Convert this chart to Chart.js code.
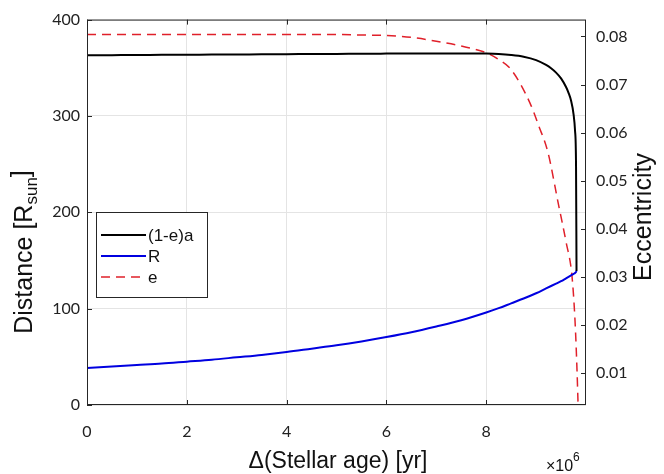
<!DOCTYPE html>
<html><head><meta charset="utf-8">
<script src="https://cdn.jsdelivr.net/npm/chart.js@4/dist/chart.umd.min.js"></script>
<style>html,body{margin:0;padding:0;background:#fff}#wrap{width:664px;height:474px;position:relative}</style>
</head><body><div id="wrap"><canvas id="c" width="664" height="474"></canvas></div>
<script>
// x values in units of 10^6 yr
const ageX   = [0,0.5,1,1.5,2,2.5,3,3.5,4,4.5,5,5.5,6,6.5,7,7.5,8,8.25,8.5,8.75,9,9.2,9.3,9.4,9.5,9.6,9.65,9.7,9.75,9.78,9.8,9.81];
const periA  = [363,363.1,363.2,363.4,363.5,363.7,363.8,364,364.1,364.3,364.4,364.6,364.7,364.8,364.9,364.9,364.7,364.3,363.3,361.5,358,353,349.5,345,339,330,324,316,302,285,250,139];
const radiusR= [38.5,40,41.5,43,45,47,49.5,52,55,58.5,62,66,70.5,75.5,81.5,88,96,100.5,105.5,110.5,116,121,123.5,126,128.5,131.5,133,134.5,136,137,138,139];
const eccX   = [0,1,2,3,4,5,5.5,6,6.5,7,7.5,8,8.25,8.5,8.88,9.05,9.24,9.44,9.6,9.72,9.78,9.82,9.84];
const eccE   = [0.0804,0.0804,0.0804,0.0804,0.0804,0.0804,0.0803,0.0802,0.0798,0.0790,0.0780,0.0766,0.0752,0.0731,0.0661,0.0615,0.0558,0.0455,0.0373,0.0301,0.0209,0.0106,0.0040];
const seriesNames = ['(1-e)a','R','e'];
const xTicks = [0,2,4,6,8];
const leftTicks = [0,100,200,300,400];
const rightTicks = [0.01,0.02,0.03,0.04,0.05,0.06,0.07,0.08];

const tickFont = {family:'Lato, "Open Sans", sans-serif', size:16};
const titleFam = '"Liberation Sans", Arial, sans-serif';
const frameCol = '#262626';

const mk = (xs, ys) => xs.map((x,i)=>({x:x, y:ys[i]}));

const decor = {
  id:'decor',
  afterDatasetsDraw(chart){
    const {ctx, chartArea:a, scales} = chart;
    ctx.save();
    ctx.strokeStyle = frameCol; ctx.lineWidth = 1;
    ctx.strokeRect(a.left+0.5, a.top+0.5, a.right-a.left-1, a.bottom-a.top-1);
    ctx.beginPath();
    const tl = 5;
    xTicks.forEach(v=>{const p=Math.round(scales.x.getPixelForValue(v))+0.5; ctx.moveTo(p,a.bottom); ctx.lineTo(p,a.bottom-tl); ctx.moveTo(p,a.top); ctx.lineTo(p,a.top+tl);});
    leftTicks.forEach(v=>{const p=Math.round(scales.y.getPixelForValue(v))+0.5; ctx.moveTo(a.left,p); ctx.lineTo(a.left+tl,p);});
    rightTicks.forEach(v=>{const p=Math.round(scales.y1.getPixelForValue(v))+0.5; ctx.moveTo(a.right,p); ctx.lineTo(a.right-tl,p);});
    ctx.stroke();

    // legend
    const lx=96, ly=212, lw=111, lh=85;
    ctx.fillStyle='#fff'; ctx.fillRect(lx,ly,lw,lh);
    ctx.strokeStyle=frameCol; ctx.strokeRect(lx+0.5,ly+0.5,lw,lh);
    const ds = chart.data.datasets;
    ctx.font = '17px '+titleFam; ctx.textBaseline='middle'; ctx.textAlign='left';
    [235,256,277].forEach((yy,i)=>{
      const d = ds[i];
      ctx.beginPath(); ctx.strokeStyle=d.borderColor; ctx.lineWidth=d.borderWidth;
      ctx.setLineDash(d.borderDash||[]);
      ctx.moveTo(101,yy); ctx.lineTo(146,yy); ctx.stroke(); ctx.setLineDash([]);
      ctx.fillStyle='#111'; ctx.fillText(d.label,148,yy+1);
    });
    ctx.restore();
  },
  afterDraw(chart){
    const {ctx, chartArea:a} = chart;
    ctx.save();
    ctx.fillStyle='#111';
    // left title with subscript
    const big='25px '+titleFam, small='17px '+titleFam;
    ctx.font=big; const w1=ctx.measureText('Distance [R').width, w3=ctx.measureText(']').width;
    ctx.font=small; const w2=ctx.measureText('sun').width;
    const tot=w1+w2+w3;
    ctx.translate(32, 252); ctx.rotate(-Math.PI/2);
    ctx.textBaseline='alphabetic'; ctx.textAlign='left';
    let x0=-tot/2;
    ctx.font=big; ctx.fillText('Distance [R',x0,0); x0+=w1;
    ctx.font=small; ctx.fillText('sun',x0,5); x0+=w2;
    ctx.font=big; ctx.fillText(']',x0,-3);
    ctx.setTransform(1,0,0,1,0,0);
    // right title
    ctx.translate(651, 217); ctx.rotate(-Math.PI/2);
    ctx.font=big; ctx.textAlign='center'; ctx.fillText('Eccentricity',0,0);
    ctx.setTransform(1,0,0,1,0,0);
    // x title
    ctx.font='23px '+titleFam; ctx.textAlign='center';
    ctx.fillText('\u0394(Stellar age) [yr]', 338, 468);
    // multiplier
    ctx.font='16px '+titleFam; ctx.textAlign='left';
    ctx.fillText('\u00d710', 546, 471);
    ctx.font='12px '+titleFam; ctx.fillText('6', 573, 461);
    ctx.restore();
  }
};

new Chart(document.getElementById('c'), {
  type:'line',
  data:{datasets:[
    {label:seriesNames[0], data:mk(ageX,periA), yAxisID:'y', borderColor:'#000', borderWidth:2, pointRadius:0, cubicInterpolationMode:'monotone'},
    {label:seriesNames[1], data:mk(ageX,radiusR), yAxisID:'y', borderColor:'#0000e0', borderWidth:2, pointRadius:0, cubicInterpolationMode:'monotone'},
    {label:seriesNames[2], data:mk(eccX,eccE), yAxisID:'y1', borderColor:'#e0202a', borderWidth:1.5, borderDash:[9,6], pointRadius:0, cubicInterpolationMode:'monotone'}
  ]},
  options:{
    responsive:false, animation:false, devicePixelRatio:1,
    layout:{padding:{top:15,left:0,right:0,bottom:0}},
    plugins:{legend:{display:false}, tooltip:{enabled:false}},
    scales:{
      x:{type:'linear', min:0, max:10,
        afterBuildTicks:s=>{s.ticks=xTicks.map(v=>({value:v}));},
        afterFit:s=>{s.height=69;},
        grid:{color:'#e4e4e4', drawTicks:false}, border:{display:false},
        ticks:{padding:17, font:tickFont, color:'#222', maxRotation:0, callback:v=>String(v)}},
      y:{position:'left', min:0, max:400,
        afterBuildTicks:s=>{s.ticks=leftTicks.map(v=>({value:v}));},
        afterFit:s=>{s.width=87;},
        grid:{color:'#e4e4e4', drawTicks:false}, border:{display:false},
        ticks:{padding:7, font:tickFont, color:'#222', callback:v=>String(v)}},
      y1:{position:'right', min:0.0034, max:0.0835,
        afterBuildTicks:s=>{s.ticks=rightTicks.map(v=>({value:v}));},
        afterFit:s=>{s.width=78;},
        grid:{display:false, drawTicks:false}, border:{display:false},
        ticks:{padding:10, font:tickFont, color:'#222', callback:v=>v.toFixed(2)}}
    }
  },
  plugins:[decor]
});
</script></body></html>
